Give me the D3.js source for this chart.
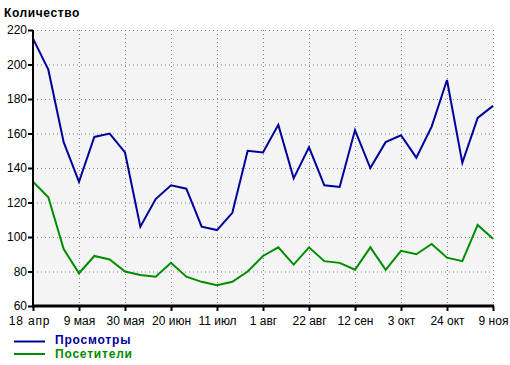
<!DOCTYPE html>
<html><head><meta charset="utf-8">
<script src="https://cdn.jsdelivr.net/npm/d3@7"></script>
<style>body{margin:0;background:#fff;}svg{display:block;font-family:"Liberation Sans",Arial,sans-serif;}</style>
</head><body><svg id="c" width="510" height="365"></svg>
<script>
const tickLabels = ["18 апр","9 мая","30 мая","20 июн","11 июл","1 авг","22 авг","12 сен","3 окт","24 окт","9 ноя"];
const views = [215,197,155,132,158,160,149,106,122,130,128,106,104,114,150,149,165,134,152,130,129,162,140,155,159,146,164,191,143,169,176];
const visitors = [132,123,93,79,89,87,80,78,77,85,77,74,72,74,80,89,94,84,94,86,85,81,94,81,92,90,96,88,86,107,99];
const yTicks = [60,80,100,120,140,160,180,200,220];
const seriesNames = ["Просмотры","Посетители"];
const colors = ["#00009c","#008c00"];

const svg = d3.select("#c");
const L=33,R=493,T=30,B=306;
const x = d3.scaleLinear().domain([0, views.length-1]).range([L,R]);
const y = d3.scaleLinear().domain([60,220]).range([B,T]);

svg.append("rect").attr("x",L).attr("y",T).attr("width",R-L).attr("height",B-T).attr("fill","#f4f4f4");

const grid = svg.append("g").attr("stroke","#888").attr("stroke-dasharray","1,3").attr("stroke-width",1);
yTicks.forEach(v=>{ if(v>60) grid.append("line").attr("x1",L).attr("x2",R).attr("y1",y(v)+0.5).attr("y2",y(v)+0.5); });
tickLabels.forEach((t,i)=>{ if(i>0) grid.append("line").attr("x1",x(i*3)+0.5).attr("x2",x(i*3)+0.5).attr("y1",T).attr("y2",B); });

const line = d3.line().x((d,i)=>x(i)).y(d=>y(d));
[views,visitors].forEach((s,k)=>{
  svg.append("path").attr("d",line(s)).attr("fill","none").attr("stroke",colors[k]).attr("stroke-width",2).attr("stroke-linejoin","miter");
});

// y axis
const ya = svg.append("g").attr("transform",`translate(${L},0)`)
  .call(d3.axisLeft(y).tickValues(yTicks).tickSize(5).tickPadding(1).tickFormat(d3.format("d")));
ya.select(".domain").attr("stroke","#000").attr("stroke-width",2).attr("d",`M0,${T}V${B}`);
ya.selectAll(".tick line").attr("stroke","#000").attr("stroke-width",2);
ya.selectAll("text").attr("font-size",12).attr("fill","#000").attr("font-family","Liberation Sans, Arial, sans-serif");

// x axis
const xa = svg.append("g").attr("transform",`translate(0,${B})`)
  .call(d3.axisBottom(x).tickValues(tickLabels.map((t,i)=>i*3)).tickSize(5).tickPadding(5).tickFormat((d,i)=>tickLabels[i]));
xa.select(".domain").attr("stroke","#000").attr("stroke-width",3).attr("d",`M${L-1},0H${R+1}`);
xa.selectAll(".tick line").attr("stroke","#000").attr("stroke-width",2);
xa.selectAll("text").attr("font-size",12).attr("fill","#000").attr("font-family","Liberation Sans, Arial, sans-serif");
xa.selectAll("text").filter((d,i)=>i===0).attr("dx",-4).attr("letter-spacing","0.8px");

svg.append("text").attr("x",4).attr("y",17).attr("font-size",12).attr("font-weight","bold").attr("letter-spacing","0.6px").text("Количество");

seriesNames.forEach((n,k)=>{
  const ly = 341.5 + k*12.5;
  svg.append("line").attr("x1",14).attr("x2",45).attr("y1",ly).attr("y2",ly).attr("stroke",colors[k]).attr("stroke-width",2);
  svg.append("text").attr("x",55).attr("y",344 + k*13.5).attr("font-size",12).attr("font-weight","bold").attr("letter-spacing","0.8px").attr("fill",colors[k]).text(n);
});
</script></body></html>
